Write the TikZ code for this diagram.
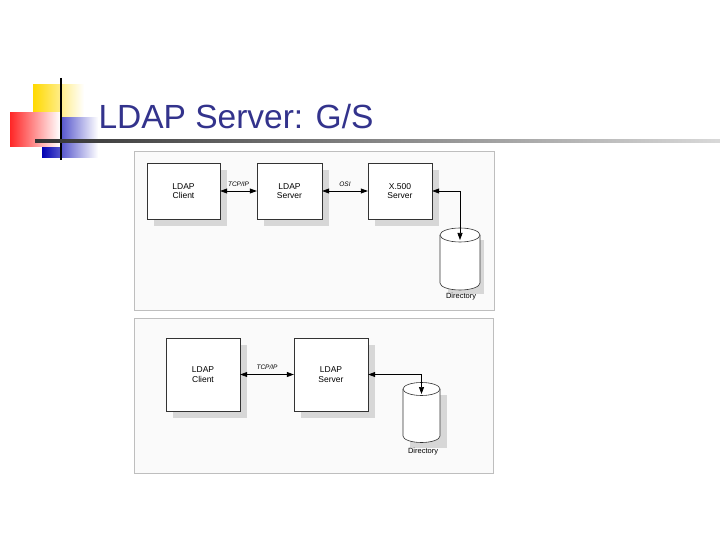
\documentclass[tikz,border=0pt]{standalone}
\usepackage{fontspec}
\setmainfont{Liberation Sans}
\usetikzlibrary{arrows.meta}
\definecolor{titleblue}{RGB}{51,51,140}
\definecolor{shad}{RGB}{215,215,215}
\definecolor{frame}{RGB}{190,190,190}
\begin{document}
\begin{tikzpicture}[x=1pt,y=-1pt,
  box/.style={draw=black!80,fill=white,minimum width=#1,inner sep=0pt,align=center,font=\fontsize{8.5}{9.5}\selectfont},
  lbl/.style={font=\fontsize{6.5}{7}\selectfont\itshape},
  conn/.style={{Triangle[length=7pt,width=5pt]}-{Triangle[length=7pt,width=5pt]},black,line width=0.7pt},
  drum/.style={draw=black!80,fill=white,line width=0.6pt}]
\useasboundingbox (0,0) rectangle (720,540);
% title decoration
\shade[left color=yellow!70!orange,right color=white] (33,85) rectangle (84,122);
\shade[left color=blue!70!black,right color=white] (42,118) rectangle (98,158);
\shade[left color=red!85,right color=white] (10,113) rectangle (60,147);
\draw[line width=1.2pt] (61,78) -- (61,160);
\shade[left color=black!80,right color=black!15] (35,140) rectangle (720,142.5);
\node[anchor=west,text=titleblue,font=\fontsize{33.5}{38}\selectfont] (title) at (95,117) {LDAP Server: G/S};
% panel 1
\draw[frame,fill=black!2] (134,151) rectangle (494,310);
\fill[shad] (154,170) rectangle (227,226);
\fill[shad] (264,170) rectangle (329,226);
\fill[shad] (375,170) rectangle (439,226);
\node[box=73pt,minimum height=56pt] (c1) at (183.5,191) {LDAP\\Client};
\node[box=65pt,minimum height=56pt] (s1) at (289.5,191) {LDAP\\Server};
\node[box=64pt,minimum height=56pt] (x1) at (400,191) {X.500\\Server};
\fill[shad] (448,240) rectangle (484,294);
\draw[drum] (440,235) -- (440,283) arc[start angle=180,end angle=360,x radius=20,y radius=-7] -- (480,235) arc[start angle=0,end angle=180,x radius=20,y radius=-7] -- cycle;
\draw[drum] (440,235) arc[start angle=180,end angle=360,x radius=20,y radius=-7];
\coordinate (d1) at (460,240);
\node[font=\fontsize{7.5}{8}\selectfont] (dl1) at (461,297) {Directory};
\draw[conn] (c1.east) -- node[lbl,above=1pt] {TCP/IP} (s1.west);
\draw[conn] (s1.east) -- node[lbl,above=1pt] {OSI} (x1.west);
\draw[conn] (x1.east) -| (d1);
% panel 2
\draw[frame,fill=black!2] (134,318) rectangle (493,473);
\fill[shad] (173,345) rectangle (247,418);
\fill[shad] (301,345) rectangle (375,418);
\node[box=74pt,minimum height=73pt] (c2) at (203,374.5) {LDAP\\Client};
\node[box=74pt,minimum height=73pt] (s2) at (331,374.5) {LDAP\\Server};
\fill[shad] (410,395) rectangle (447,448);
\draw[drum] (403,389) -- (403,436) arc[start angle=180,end angle=360,x radius=18.5,y radius=-6.5] -- (440,389) arc[start angle=0,end angle=180,x radius=18.5,y radius=-6.5] -- cycle;
\draw[drum] (403,389) arc[start angle=180,end angle=360,x radius=18.5,y radius=-6.5];
\coordinate (d2) at (421.5,394);
\node[font=\fontsize{7.5}{8}\selectfont] (dl2) at (423,452) {Directory};
\draw[conn] (c2.east) -- node[lbl,above=1pt] {TCP/IP} (s2.west);
\draw[conn] (s2.east) -| (d2);
\end{tikzpicture}
\end{document}
